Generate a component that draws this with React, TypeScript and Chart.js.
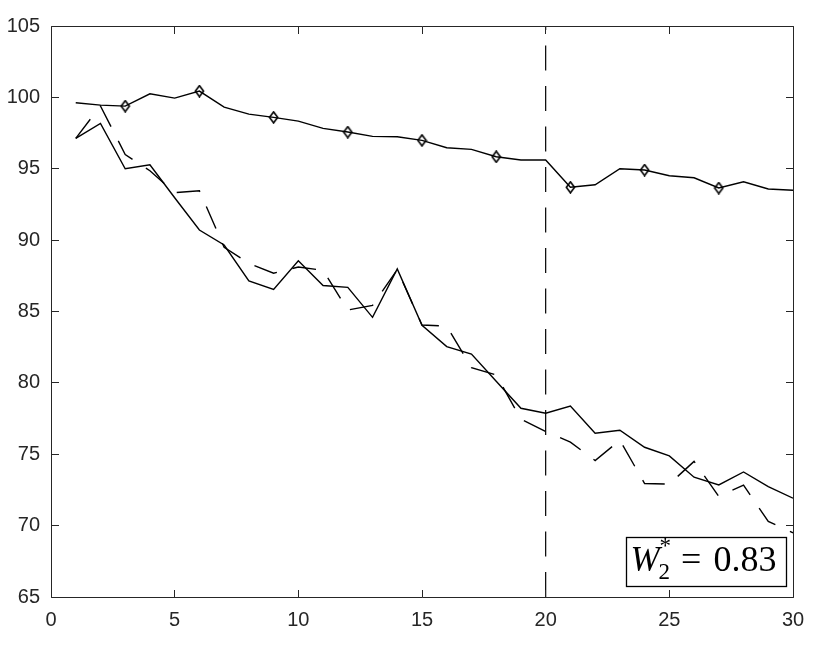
import React, { useEffect, useRef } from 'react';
import { Chart, registerables } from 'chart.js';

Chart.register(...registerables);

// ---- data ----
const xValues = [1, 2, 3, 4, 5, 6, 7, 8, 9, 10, 11, 12, 13, 14, 15, 16, 17, 18, 19, 20, 21, 22, 23, 24, 25, 26, 27, 28, 29, 30];
const seriesTop = [99.62, 99.46, 99.39, 100.25, 99.95, 100.44, 99.32, 98.83, 98.6, 98.34, 97.83, 97.57, 97.27, 97.24, 96.99, 96.47, 96.36, 95.84, 95.61, 95.61, 93.7, 93.88, 95.0, 94.91, 94.51, 94.37, 93.65, 94.09, 93.58, 93.49];
const seriesSolid = [97.13, 98.18, 95.0, 95.28, 92.97, 90.71, 89.66, 87.14, 86.55, 88.56, 86.82, 86.69, 84.59, 87.98, 84.03, 82.54, 82.02, 80.12, 78.22, 77.87, 78.37, 76.47, 76.68, 75.49, 74.88, 73.39, 72.85, 73.76, 72.73, 71.92];
const seriesDashed = [97.13, 99.4, 96.0, 94.86, 93.32, 93.46, 89.5, 88.37, 87.68, 88.12, 87.88, 85.1, 85.43, 87.93, 84.05, 83.98, 81.07, 80.55, 77.45, 76.6, 75.85, 74.56, 75.98, 72.95, 72.91, 74.5, 72.05, 72.84, 70.29, 69.5];
const markerX = [3, 6, 9, 12, 15, 18, 21, 24, 27];
const vLineX = 20;
const xRange = [0, 30];
const yRange = [65, 105];
const tickStep = 5;
const boxText = { base: 'W', sub: '2', sup: '*', eq: '=', value: '0.83' };

const AXIS_COLOR = '#262626';

function makeDiamond(): HTMLCanvasElement {
  const c = document.createElement('canvas');
  c.width = 11;
  c.height = 13;
  const g = c.getContext('2d')!;
  g.strokeStyle = '#000';
  g.lineWidth = 1.6;
  g.beginPath();
  g.moveTo(5.5, 1);
  g.lineTo(9.6, 6.5);
  g.lineTo(5.5, 12);
  g.lineTo(1.4, 6.5);
  g.closePath();
  g.stroke();
  return c;
}

const framePlugin = {
  id: 'matlabFrame',
  afterDraw(chart: any) {
    const { ctx, chartArea: a, scales } = chart;
    const L = Math.floor(a.left) + 0.5;
    const R = Math.floor(a.right) + 0.5;
    const T = Math.floor(a.top) + 0.5;
    const B = Math.floor(a.bottom) + 0.5;
    const tl = 7.5;
    ctx.save();
    ctx.strokeStyle = AXIS_COLOR;
    ctx.lineWidth = 1;
    ctx.beginPath();
    ctx.rect(L, T, R - L, B - T);
    ctx.stroke();
    ctx.beginPath();
    for (const t of scales.x.ticks) {
      const px = Math.floor(scales.x.getPixelForValue(t.value)) + 0.5;
      ctx.moveTo(px, B);
      ctx.lineTo(px, B - tl);
      ctx.moveTo(px, T);
      ctx.lineTo(px, T + tl);
    }
    for (const t of scales.y.ticks) {
      const py = Math.floor(scales.y.getPixelForValue(t.value)) + 0.5;
      ctx.moveTo(L, py);
      ctx.lineTo(L + tl, py);
      ctx.moveTo(R, py);
      ctx.lineTo(R - tl, py);
    }
    ctx.stroke();

    // annotation box
    const bw = 160;
    const bh = 49;
    const bx = Math.floor(a.right - 7 - bw) + 0.5;
    const by = Math.floor(a.bottom - 11 - bh) + 0.5;
    ctx.fillStyle = '#fff';
    ctx.fillRect(bx, by, bw, bh);
    ctx.strokeStyle = '#000';
    ctx.lineWidth = 1.3;
    ctx.strokeRect(bx, by, bw, bh);
    ctx.fillStyle = '#000';
    ctx.textBaseline = 'alphabetic';
    ctx.textAlign = 'left';
    ctx.font = 'italic 35px "Liberation Serif"';
    ctx.fillText(boxText.base, bx + 4, by + 33);
    ctx.font = '23px "Liberation Serif"';
    ctx.fillText(boxText.sub, bx + 32, by + 41);
    ctx.fillText(boxText.sup, bx + 33, by + 15);
    ctx.font = '36px "Liberation Serif"';
    ctx.fillText(boxText.eq, bx + 54.5, by + 33);
    ctx.fillText(boxText.value, bx + 87, by + 33);
    ctx.restore();
  },
};

export default function App() {
  const canvasRef = useRef<HTMLCanvasElement | null>(null);

  useEffect(() => {
    const diamond = makeDiamond();
    const toXY = (ys: number[]) => xValues.map((x, i) => ({ x, y: ys[i] }));
    const chart = new Chart(canvasRef.current!, {
      type: 'line',
      data: {
        datasets: [
          {
            data: toXY(seriesTop),
            borderColor: '#000',
            borderWidth: 1.4,
            tension: 0,
            pointStyle: diamond as any,
            pointRadius: (c: any) => (markerX.includes(xValues[c.dataIndex]) ? 5 : 0),
            pointHoverRadius: 0,
          },
          {
            data: toXY(seriesSolid),
            borderColor: '#000',
            borderWidth: 1.4,
            tension: 0,
            pointRadius: 0,
          },
          {
            data: toXY(seriesDashed),
            borderColor: '#000',
            borderWidth: 1.4,
            borderDash: [24, 16],
            tension: 0,
            pointRadius: 0,
          },
          {
            data: [
              { x: vLineX, y: yRange[0] },
              { x: vLineX, y: yRange[1] },
            ],
            borderColor: '#000',
            borderWidth: 1.2,
            borderDash: [25, 15.5],
            pointRadius: 0,
          },
        ],
      },
      options: {
        animation: false,
        responsive: true,
        maintainAspectRatio: false,
        devicePixelRatio: 1,
        layout: { padding: { top: 26, right: 37, left: 0, bottom: 0 } },
        plugins: { legend: { display: false }, tooltip: { enabled: false } },
        events: [],
        scales: {
          x: {
            type: 'linear',
            min: xRange[0],
            max: xRange[1],
            ticks: {
              stepSize: tickStep,
              color: AXIS_COLOR,
              font: { family: '"Liberation Sans", Arial, sans-serif', size: 20 },
              padding: 11,
              maxRotation: 0,
            },
            grid: { display: false, drawTicks: false },
            border: { display: false },
            afterFit: (s: any) => {
              s.height = 51;
            },
          },
          y: {
            type: 'linear',
            min: yRange[0],
            max: yRange[1],
            ticks: {
              stepSize: tickStep,
              color: AXIS_COLOR,
              font: { family: '"Liberation Sans", Arial, sans-serif', size: 20 },
              padding: 11,
            },
            grid: { display: false, drawTicks: false },
            border: { display: false },
            afterFit: (s: any) => {
              s.width = 51;
            },
          },
        },
      },
      plugins: [framePlugin],
    });
    return () => chart.destroy();
  }, []);

  return (
    <div style={{ position: 'fixed', left: 0, top: 0, width: 830, height: 648, background: '#fff' }}>
      <canvas ref={canvasRef} />
    </div>
  );
}
